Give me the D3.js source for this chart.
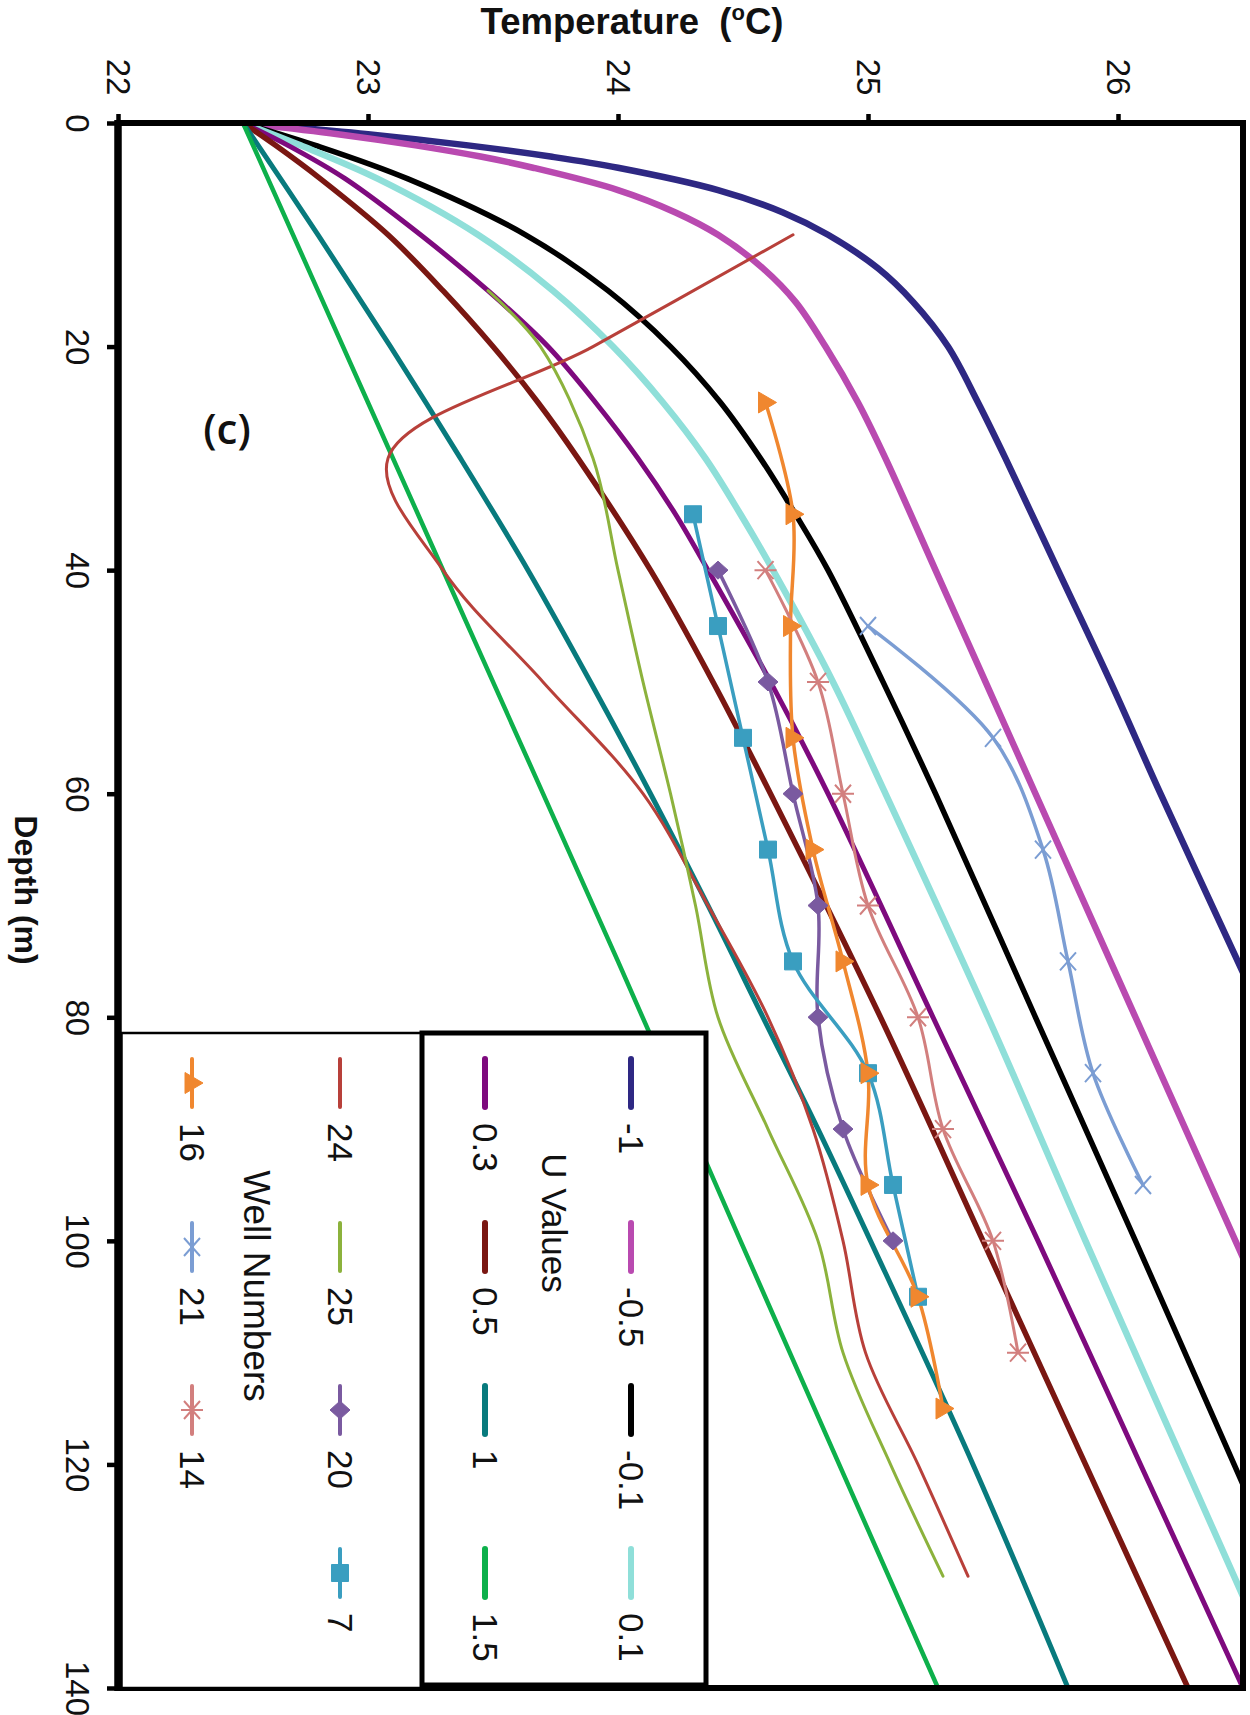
<!DOCTYPE html>
<html><head><meta charset="utf-8">
<script src="https://cdn.jsdelivr.net/npm/d3@7"></script>
<style>html,body{margin:0;padding:0;background:#fff;} svg{display:block;}</style>
</head><body>
<svg id="chart" width="1250" height="1715"></svg>
<script>
// ---------------- DATA ----------------
const tempTicks = [22, 23, 24, 25, 26];
const depthTicks = [0, 20, 40, 60, 80, 100, 120, 140];

// Model curves: [depth (m), temperature (°C)]
const uMinus1  = [[0,22.5],[1,23.0],[2,23.4],[3,23.73],[4,24.0],[6,24.4],[8,24.66],[10,24.84],[13,25.04],[16,25.18],[20,25.32],[25,25.44],[30,25.55],[40,25.76],[50,25.97],[60,26.17],[76,26.5]];
const uMinus05 = [[0,22.5],[1,22.88],[2,23.19],[3,23.45],[4,23.66],[6,24.0],[8,24.23],[10,24.4],[13,24.58],[16,24.71],[20,24.83],[25,24.96],[30,25.07],[40,25.27],[50,25.47],[60,25.67],[80,26.07],[101.5,26.5]];
const uMinus01 = [[0,22.5],[2,22.79],[5,23.16],[10,23.63],[15,23.96],[20,24.21],[25,24.41],[30,24.57],[35,24.71],[40,24.84],[50,25.06],[60,25.27],[80,25.67],[100,26.07],[121.8,26.5]];
const uPlus01  = [[0,22.5],[2,22.73],[5,23.04],[10,23.44],[15,23.74],[20,23.98],[25,24.18],[30,24.35],[35,24.49],[40,24.62],[50,24.86],[60,25.07],[80,25.48],[100,25.87],[131.8,26.5]];
const uPlus03  = [[0,22.5],[2,22.68],[5,22.91],[10,23.21],[15,23.48],[20,23.72],[25,23.91],[30,24.08],[35,24.23],[40,24.36],[50,24.61],[60,24.84],[80,25.26],[100,25.68],[120,26.09],[140,26.5]];
const uPlus05  = [[0,22.5],[2,22.63],[5,22.81],[10,23.08],[15,23.3],[20,23.5],[25,23.68],[30,23.84],[40,24.13],[50,24.38],[60,24.61],[80,25.05],[100,25.46],[120,25.87],[140,26.28]];
const uPlus1   = [[0,22.5],[10,22.8],[20,23.09],[30,23.37],[40,23.64],[50,23.89],[60,24.13],[70,24.36],[80,24.58],[90,24.8],[100,25.01],[120,25.42],[140,25.8]];
const uPlus15  = [[0,22.5],[25,23.0],[50,23.5],[75,24.0],[100,24.49],[140,25.28]];
const uLabels  = ["-1", "-0.5", "-0.1", "0.1", "0.3", "0.5", "1", "1.5"];

// Well observations: [depth (m), temperature (°C)]
const well24 = [[10,24.70],[20,23.90],[30,23.08],[40,23.30],[50,23.70],[60,24.10],[70,24.36],[80,24.60],[90,24.78],[100,24.90],[110,24.99],[120,25.20],[130,25.40]];
const well25 = [[15,23.48],[20,23.69],[30,23.90],[40,24.0],[50,24.10],[60,24.21],[70,24.31],[80,24.40],[90,24.60],[100,24.80],[110,24.90],[120,25.09],[130,25.30]];
const well20 = [[40,24.4],[50,24.6],[60,24.7],[70,24.8],[80,24.8],[90,24.9],[100,25.1]];
const well7  = [[35,24.3],[45,24.4],[55,24.5],[65,24.6],[75,24.7],[85,25.0],[95,25.1],[105,25.2]];
const well16 = [[25,24.59],[35,24.70],[45,24.69],[55,24.70],[65,24.78],[75,24.90],[85,25.0],[95,25.0],[105,25.20],[115,25.30]];
const well21 = [[45,25.0],[55,25.5],[65,25.7],[75,25.8],[85,25.9],[95,26.1]];
const well14 = [[40,24.59],[50,24.80],[60,24.90],[70,25.0],[80,25.2],[90,25.3],[100,25.5],[110,25.6]];
const wellLabels = ["24", "25", "20", "7", "16", "21", "14"];

// ---------------- STYLE ----------------
const uData = [uMinus1, uMinus05, uMinus01, uPlus01, uPlus03, uPlus05, uPlus1, uPlus15];
const uColors = ["#2E2883", "#B94AB0", "#000000", "#8FDFD9", "#7E0A7E", "#7A1712", "#087A7D", "#0DB04B"];
const uWidths = [6.5, 6.5, 5.5, 6.5, 5, 5.5, 5, 4.5];

const wellData = [well24, well25, well20, well7, well16, well21, well14];
const wellColors = ["#B8403A", "#8CB23C", "#7A5AA0", "#3A9EC0", "#F0872F", "#7B9DD3", "#D27F7E"];
const wellWidths = [3, 3, 3.5, 3.5, 3.5, 3.5, 3];
const wellMarkers = [null, null, "diamond", "square", "triangle", "x", "star"];

const FONT = "'Liberation Sans', Arial, Helvetica, sans-serif";

// ---------------- CHART ----------------
const svg = d3.select("#chart");
svg.append("rect").attr("width", 1250).attr("height", 1715).attr("fill", "#fff");

const M = {left: 118, right: 1243, top: 123, bottom: 1688};
const x = d3.scaleLinear().domain([22, 26.5]).range([M.left, M.right]);
const y = d3.scaleLinear().domain([0, 140]).range([M.top, M.bottom]);

svg.append("defs").append("clipPath").attr("id", "plotclip")
  .append("rect").attr("x", M.left).attr("y", M.top)
  .attr("width", M.right - M.left).attr("height", M.bottom - M.top);

const line = d3.line()
  .x(d => x(d[1])).y(d => y(d[0]))
  .curve(d3.curveCatmullRom.alpha(0.5));

const plot = svg.append("g").attr("clip-path", "url(#plotclip)");

// model curves
uData.forEach((arr, i) => {
  plot.append("path").datum(arr)
    .attr("d", line).attr("fill", "none")
    .attr("stroke", uColors[i]).attr("stroke-width", uWidths[i])
    .attr("stroke-linejoin", "round").attr("stroke-linecap", "round");
});

function markerPath(type) {
  switch (type) {
    case "square": return "M-8.5,-8.5H8.5V8.5H-8.5Z";
    case "diamond": return "M0,-9L10,0L0,9L-10,0Z";
    case "triangle": return "M11,0L-7,-10.5L-7,10.5Z";
    case "x": return "M-8,-9L8,9M-8,9L8,-9";
    case "star": return "M-8,-9L8,9M-8,9L8,-9M-11,0H11";
  }
  return "";
}
function drawMarker(g, type, cx, cy, color) {
  if (!type) return;
  const filled = (type === "square" || type === "diamond" || type === "triangle");
  g.append("path").attr("d", markerPath(type))
    .attr("transform", `translate(${cx},${cy})`)
    .attr("fill", filled ? color : "none")
    .attr("stroke", color).attr("stroke-width", filled ? 1 : 2);
}

// wells
wellData.forEach((arr, i) => {
  plot.append("path").datum(arr)
    .attr("d", line).attr("fill", "none")
    .attr("stroke", wellColors[i]).attr("stroke-width", wellWidths[i])
    .attr("stroke-linejoin", "round").attr("stroke-linecap", "round");
});
wellData.forEach((arr, i) => {
  arr.forEach(d => drawMarker(plot, wellMarkers[i], x(d[1]), y(d[0]), wellColors[i]));
});

// frame
svg.append("rect").attr("x", M.left).attr("y", M.top)
  .attr("width", M.right - M.left).attr("height", M.bottom - M.top)
  .attr("fill", "none").attr("stroke", "#000").attr("stroke-width", 6);
svg.append("line").attr("x1", M.left).attr("x2", M.left).attr("y1", M.top - 3).attr("y2", M.bottom + 3)
  .attr("stroke", "#000").attr("stroke-width", 7.5);

// axes
const xAxis = d3.axisTop(x).tickValues(tempTicks).tickSize(9).tickFormat(d3.format("d"));
const gx = svg.append("g").attr("transform", `translate(0,${M.top})`).call(xAxis)
  .attr("font-size", 33).attr("font-family", FONT);
gx.select(".domain").remove();
gx.selectAll(".tick line").attr("stroke", "#000").attr("stroke-width", 4.5);
gx.selectAll(".tick text").attr("x", 0).attr("y", 0).attr("dy", null)
  .attr("text-anchor", "middle").attr("dominant-baseline", "central")
  .attr("transform", "translate(0,-46) rotate(90)").attr("fill", "#111");

const yAxis = d3.axisLeft(y).tickValues(depthTicks).tickSize(11).tickFormat(d3.format("d"));
const gy = svg.append("g").attr("transform", `translate(${M.left},0)`).call(yAxis)
  .attr("font-size", 33).attr("font-family", FONT);
gy.select(".domain").remove();
gy.selectAll(".tick line").attr("stroke", "#000").attr("stroke-width", 4.5);
gy.selectAll(".tick text").attr("x", 0).attr("y", 0).attr("dy", null)
  .attr("text-anchor", "middle").attr("dominant-baseline", "central")
  .attr("transform", "translate(-41,0) rotate(90)").attr("fill", "#111");

// axis titles
const tt = svg.append("text").attr("x", 632).attr("y", 34)
  .attr("text-anchor", "middle").attr("font-family", FONT)
  .attr("font-weight", "bold").attr("font-size", 36.5).attr("fill", "#111");
tt.append("tspan").text("Temperature\u00A0 (");
tt.append("tspan").attr("font-size", 22).attr("dy", -14).text("o");
tt.append("tspan").attr("dy", 14).text("C)");

svg.append("text").attr("transform", "translate(26,890) rotate(90)")
  .attr("text-anchor", "middle").attr("dominant-baseline", "central")
  .attr("font-family", FONT).attr("font-weight", "bold").attr("font-size", 32)
  .attr("fill", "#111").text("Depth (m)");

// panel label
svg.append("text").attr("x", 227).attr("y", 427)
  .attr("text-anchor", "middle").attr("dominant-baseline", "central")
  .attr("font-family", "'Open Sans', sans-serif").attr("font-weight", 600)
  .attr("font-size", 42).attr("fill", "#111").text("(c)");

// ---------------- LEGEND ----------------
const lg = svg.append("g");
const rowY = [1083, 1247, 1410, 1573];
// Well Numbers box (thin)
lg.append("rect").attr("x", 121.5).attr("y", 1033).attr("width", 300.5).attr("height", 655)
  .attr("fill", "#fff").attr("stroke", "#000").attr("stroke-width", 2.5);
// U Values box (thick)
lg.append("rect").attr("x", 422).attr("y", 1033).attr("width", 284).attr("height", 652)
  .attr("fill", "#fff").attr("stroke", "#000").attr("stroke-width", 5);

function legendLabel(cx, cy, txt) {
  lg.append("text").attr("transform", `translate(${cx},${cy + 40}) rotate(90)`)
    .attr("text-anchor", "start").attr("dominant-baseline", "central")
    .attr("font-family", FONT).attr("font-size", 35).attr("fill", "#111").text(txt);
}
// U values: two columns of four
const uColX = [631, 485];
uLabels.forEach((lab, i) => {
  const cx = uColX[Math.floor(i / 4)], cy = rowY[i % 4];
  lg.append("line").attr("x1", cx).attr("x2", cx).attr("y1", cy - 24).attr("y2", cy + 24)
    .attr("stroke", uColors[i]).attr("stroke-width", 6).attr("stroke-linecap", "round");
  legendLabel(cx, cy, lab);
});
lg.append("text").attr("transform", "translate(554,1223) rotate(90)")
  .attr("text-anchor", "middle").attr("dominant-baseline", "central")
  .attr("font-family", FONT).attr("font-size", 35).attr("fill", "#111").text("U Values");

// wells: column of four then column of three
const wColX = [340, 192];
wellLabels.forEach((lab, i) => {
  const cx = wColX[i < 4 ? 0 : 1], cy = rowY[i < 4 ? i : i - 4];
  lg.append("line").attr("x1", cx).attr("x2", cx).attr("y1", cy - 24).attr("y2", cy + 24)
    .attr("stroke", wellColors[i]).attr("stroke-width", 4).attr("stroke-linecap", "round");
  drawMarker(lg, wellMarkers[i], cx, cy, wellColors[i]);
  legendLabel(cx, cy, lab);
});
lg.append("text").attr("transform", "translate(256,1286) rotate(90)")
  .attr("text-anchor", "middle").attr("dominant-baseline", "central")
  .attr("font-family", FONT).attr("font-size", 37).attr("fill", "#111").text("Well Numbers");
</script>
</body></html>
